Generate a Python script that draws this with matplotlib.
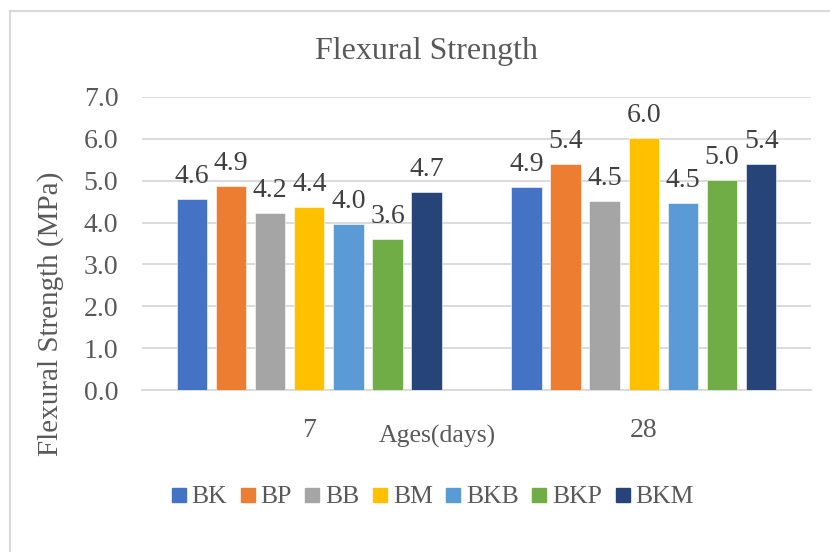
import numpy as np
import matplotlib.pyplot as plt
from matplotlib.lines import Line2D

plt.rcParams['font.family'] = ['Liberation Serif', 'DejaVu Serif']

ages = ['7', '28']
mixes = ['BK', 'BP', 'BB', 'BM', 'BKB', 'BKP', 'BKM']
BK = [4.56, 4.86]
BP = [4.88, 5.41]
BB = [4.22, 4.52]
BM = [4.37, 6.03]
BKB = [3.96, 4.47]
BKP = [3.60, 5.02]
BKM = [4.73, 5.41]
series = [BK, BP, BB, BM, BKB, BKP, BKM]

colors = ['#4472C4', '#ED7D31', '#A5A5A5', '#FFC000', '#5B9BD5', '#70AD47', '#264478']
txt = '#595959'
grid = '#d9d9d9'

fig = plt.figure(figsize=(8.3, 5.52), dpi=100)
ax = fig.add_axes([142/830, 1-390/552, (811-142)/830, (390-97)/552])

x = np.arange(len(ages))
pitch = 0.117
width = 0.091
for i, (name, vals) in enumerate(zip(mixes, series)):
    pos = x + (i - 3) * pitch
    ax.bar(pos, vals, width, color=colors[i], edgecolor='white', linewidth=0.4,
           label=name, zorder=3)
    for p, v in zip(pos, vals):
        ax.annotate(f'{v:.1f}', (p, v), xytext=(0, 11.5), textcoords='offset points',
                    ha='center', va='baseline', fontsize=20, color='#404040')

ax.set_xlim(-0.5, 1.5)
ax.set_ylim(0, 7)
ax.set_yticks(np.arange(0, 7.1, 1.0))
ax.set_yticklabels([f'{t:.1f}' for t in np.arange(0, 7.1, 1.0)])
ax.set_xticks(x)
ax.set_xticklabels(ages)
ax.tick_params(axis='both', length=0, labelsize=20, labelcolor=txt)
ax.tick_params(axis='x', pad=20)
ax.tick_params(axis='y', pad=17)
ax.grid(axis='y', color=grid, linewidth=1.3, zorder=0)
for s in ['top', 'right', 'left']:
    ax.spines[s].set_visible(False)
ax.spines['bottom'].set_color(grid)
ax.spines['bottom'].set_linewidth(1.3)

fig.text(426/830, 1-52/552, 'Flexural Strength', ha='center', va='center',
         fontsize=23, color=txt)
fig.text(437/830, 1-436/552, 'Ages(days)', ha='center', va='center',
         fontsize=18.5, color=txt)
fig.text(51/830, 1-314/552, 'Flexural Strength (MPa)', ha='center', va='center',
         rotation=90, fontsize=21, color=txt)

handles = [Line2D([], [], marker='s', linestyle='none', markersize=9.5,
                  color=c) for c in colors]
fig.legend(handles, mixes, loc='center', bbox_to_anchor=(433/830, 1-497/552),
           ncol=7, frameon=False, fontsize=18.5, labelcolor=txt,
           handlelength=0.5, handletextpad=0.25, columnspacing=0.55)

# chart border (left and top visible)
fig.add_artist(Line2D([10/830, 10/830], [0, 1-11/552], color=grid, linewidth=1.5))
fig.add_artist(Line2D([10/830, 1], [1-11/552, 1-11/552], color=grid, linewidth=1.5))

fig.savefig('out.png', dpi=100, facecolor='white')
